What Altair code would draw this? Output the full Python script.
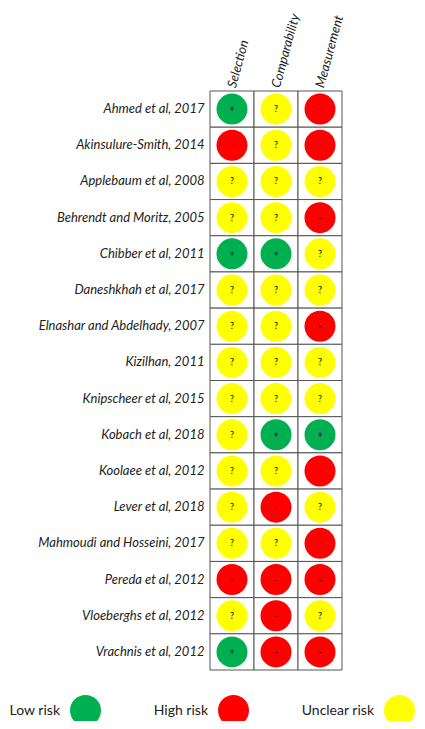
import altair as alt
import pandas as pd

studies = [
    "Ahmed et al, 2017", "Akinsulure-Smith, 2014", "Applebaum et al, 2008",
    "Behrendt and Moritz, 2005", "Chibber et al, 2011", "Daneshkhah et al, 2017",
    "Elnashar and Abdelhady, 2007", "Kizilhan, 2011", "Knipscheer et al, 2015",
    "Kobach et al, 2018", "Koolaee et al, 2012", "Lever et al, 2018",
    "Mahmoudi and Hosseini, 2017", "Pereda et al, 2012", "Vloeberghs et al, 2012",
    "Vrachnis et al, 2012",
]
domains = ["Selection", "Comparability", "Measurement"]
selection = ["+", "-", "?", "?", "+", "?", "?", "?", "?", "?", "?", "?", "?", "-", "?", "+"]
comparability = ["?", "?", "?", "?", "+", "?", "?", "?", "?", "+", "?", "-", "?", "-", "-", "-"]
measurement = ["-", "-", "?", "-", "?", "?", "-", "?", "?", "+", "-", "?", "-", "-", "?", "-"]
sign_to_risk = {"+": "Low risk", "-": "High risk", "?": "Unclear risk"}
risk_order = ["Low risk", "High risk", "Unclear risk"]
risk_colors = ["#00B050", "#FF0000", "#FFFF00"]

rows = []
for dom, vals in zip(domains, [selection, comparability, measurement]):
    for s, v in zip(studies, vals):
        rows.append({"Study": s, "Domain": dom, "Sign": v, "Risk": sign_to_risk[v]})
df = pd.DataFrame(rows)

base = alt.Chart(df).encode(
    x=alt.X("Domain:N", sort=domains, title=None,
            scale=alt.Scale(paddingInner=0, paddingOuter=0),
            axis=alt.Axis(orient="top", labelAngle=-75, labelAlign="left", labelBaseline="middle",
                          ticks=False, domain=False, labelPadding=4, labelFontStyle="italic",
                          labelFontSize=13, labelColor="#222", labelFont="Lato")),
    y=alt.Y("Study:N", sort=studies, title=None,
            scale=alt.Scale(paddingInner=0, paddingOuter=0),
            axis=alt.Axis(ticks=False, domain=False, labelPadding=6, labelFontStyle="italic",
                          labelFontSize=13, labelColor="#222", labelFont="Lato", labelLimit=300)),
)

cells = base.mark_rect(fill="white", stroke="#555", strokeWidth=1)
dots = base.mark_circle(size=961, opacity=1).encode(
    color=alt.Color("Risk:N", scale=alt.Scale(domain=risk_order, range=risk_colors),
                    legend=alt.Legend(orient="none", legendX=-140, legendY=604, direction="horizontal",
                                      title=None, symbolType="circle", symbolSize=961,
                                      symbolStrokeWidth=0, symbolOpacity=1,
                                      labelFontSize=14, labelFont="Lato", labelColor="#222",
                                      labelAlign="right", labelOffset={"expr": "-41"},
                                      columnPadding=52))
)
signs = base.mark_text(fontSize=9, color="black", font="Lato").encode(text="Sign:N")

chart = alt.layer(cells, dots, signs).properties(
    width=132, height=579,
    autosize=alt.AutoSizeParams(type="none"),
    padding={"left": 202, "top": 83, "right": 75, "bottom": 51},
).configure_view(stroke=None)

chart.save("out.html", embed_options={"renderer": "svg", "actions": False})
